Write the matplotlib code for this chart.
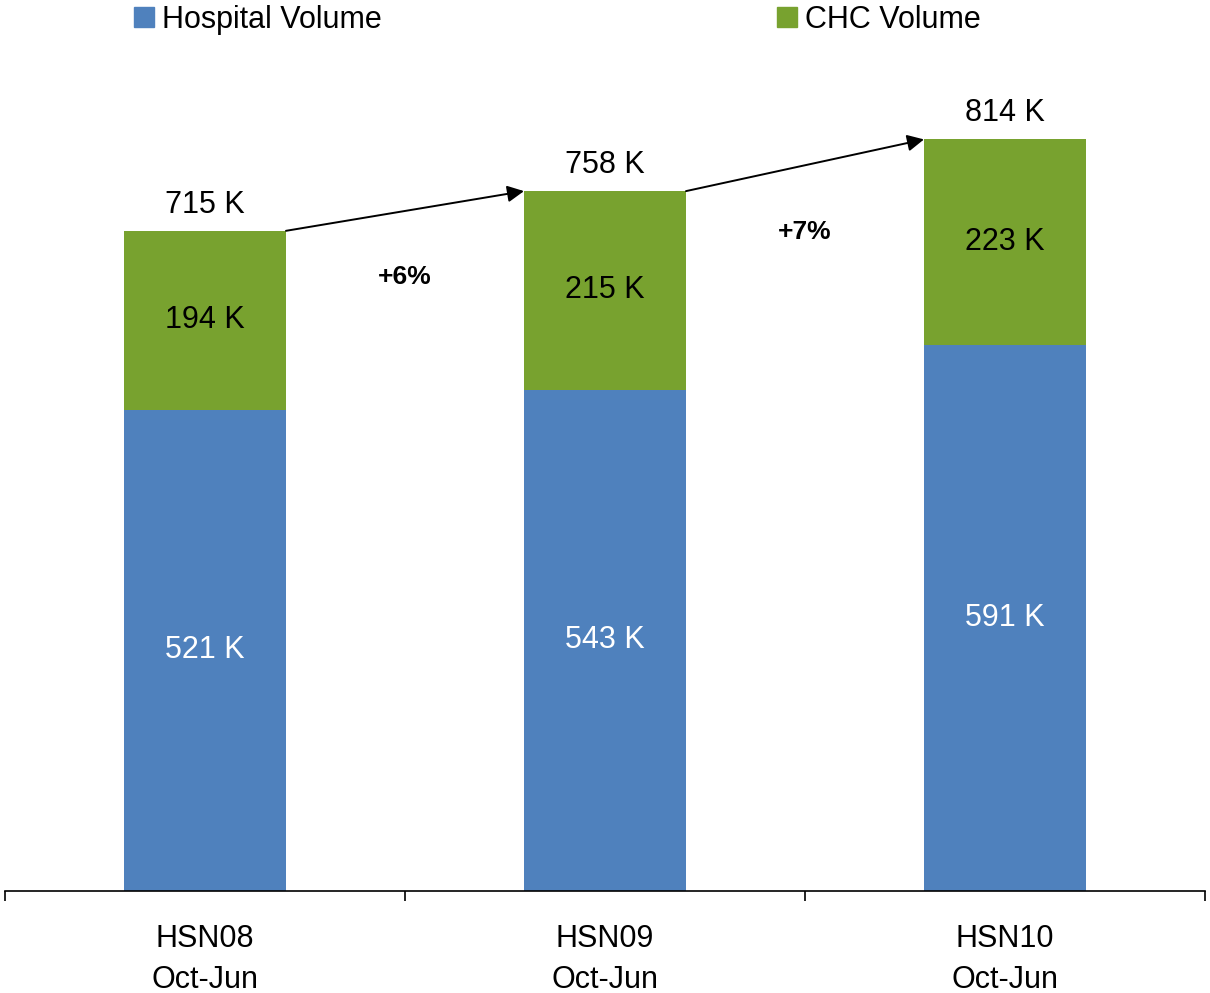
import numpy as np
import matplotlib.pyplot as plt
from matplotlib.patches import Patch

plt.rcParams['font.family'] = ['Liberation Sans', 'DejaVu Sans']

# values (thousands)
categories = ['HSN08\nOct-Jun', 'HSN09\nOct-Jun', 'HSN10\nOct-Jun']
hospital = [521, 543, 591]
chc = [194, 215, 223]
totals = [715, 758, 814]
growth = ['+6%', '+7%']

blue = '#4F81BD'
green = '#78A22F'

fig = plt.figure(figsize=(12.1, 9.93), dpi=100)
ax = fig.add_axes([5 / 1210, 102 / 993, 1200 / 1210, 831 / 993])

x = np.arange(len(categories))
w = 0.405
ax.bar(x, hospital, w, color=blue, zorder=2)
ax.bar(x, chc, w, bottom=hospital, color=green, zorder=2)

ax.set_xlim(-0.5, 2.5)
ax.set_ylim(0, 900)

# segment labels
for i in range(len(x)):
    ax.text(x[i], hospital[i] / 2, f'{hospital[i]} K', ha='center', va='center',
            color='white', fontsize=22)
    ax.text(x[i], hospital[i] + chc[i] / 2, f'{chc[i]} K', ha='center', va='center',
            color='black', fontsize=22)
    ax.annotate(f'{totals[i]} K', (x[i], totals[i]), xytext=(0, 13),
                textcoords='offset points', ha='center', va='baseline', fontsize=22)

# growth arrows between bar tops
for i in range(len(x) - 1):
    ax.annotate('', xy=(x[i + 1] - w / 2, totals[i + 1]), xytext=(x[i] + w / 2, totals[i]),
                arrowprops=dict(arrowstyle='-|>', color='black', lw=1.4,
                                mutation_scale=25, shrinkA=0, shrinkB=0))
    mid = (totals[i] + totals[i + 1]) / 2
    ax.text(x[i] + 0.5, mid - 72, growth[i], ha='center', va='center',
            fontsize=19, fontweight='bold')

for s in ['top', 'right', 'left']:
    ax.spines[s].set_visible(False)
ax.spines['bottom'].set_linewidth(1.2)
ax.set_yticks([])
ax.set_xticks(x)
ax.set_xticklabels(categories, fontsize=22, linespacing=1.45)
ax.tick_params(axis='x', which='major', length=0, pad=24)
ax.set_xticks([-0.5, 0.5, 1.5, 2.5], minor=True)
ax.tick_params(axis='x', which='minor', length=7, width=1.2, direction='out')

handles = [Patch(color=blue, label='Hospital Volume'), Patch(color=green, label='CHC Volume')]
fig.legend(handles=handles, loc='upper left', bbox_to_anchor=(134 / 1210, 1 - 5 / 993),
           ncol=2, frameon=False, fontsize=22, handlelength=0.65, handleheight=0.65,
           handletextpad=0.26, columnspacing=12.95, borderpad=0, borderaxespad=0)

fig.savefig('out.png', dpi=100)
